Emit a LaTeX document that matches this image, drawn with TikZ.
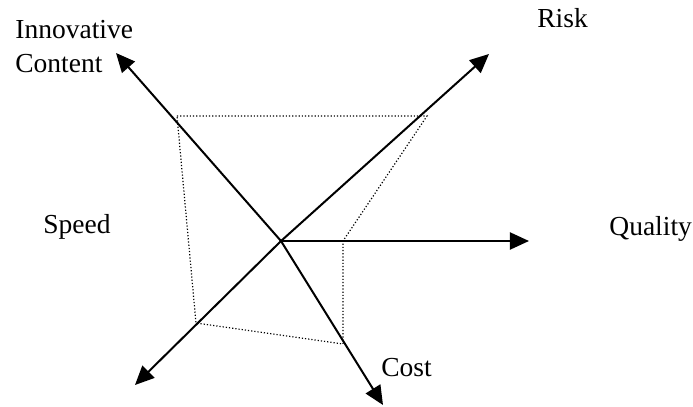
\documentclass[tikz,border=0pt]{standalone}
\usepackage{fontspec}
\setmainfont{Liberation Serif}
\usetikzlibrary{arrows.meta}
\begin{document}
\begin{tikzpicture}[x=0.5pt,y=-0.5pt,
        asse/.style={line width=1pt,-{Triangle[length=9.5pt,width=8.5pt]}},
        punti/.style={line width=0.6pt,dash pattern=on 0.6pt off 1pt},
        etich/.style={font=\fontsize{13.75}{17}\selectfont,inner sep=0pt,anchor=base west,align=left}]
        \useasboundingbox (0,0) rectangle (693,407);
        \coordinate (O) at (281,241);
        \coordinate (innov) at (116,53);
        \coordinate (risk) at (489,54);
        \coordinate (quality) at (529,241);
        \coordinate (speed) at (135,385);
        \coordinate (cost) at (383,405);
        %poligono
        \coordinate (p1) at (177,116);
        \coordinate (p2) at (427,116);
        \coordinate (p3) at (343,241);
        \coordinate (p4) at (343,344);
        \coordinate (p5) at (196,323);
        \draw[punti] (p1) -- (p2) -- (p3) -- (p4) -- (p5) -- cycle;
        %assi
        \foreach \p in {innov,risk,quality,speed,cost} {
        \draw[asse] (O) -- (\p);}
        %etichette
        \node[etich] (lInnov) at (15,72) {Innovative\\Content};
        \node[etich] (lRisk) at (537,27) {Risk};
        \node[etich] (lQuality) at (609,235) {Quality};
        \node[etich] (lSpeed) at (43,234) {Speed};
        \node[etich] (lCost) at (381,377) {Cost};
    \end{tikzpicture}
\end{document}
